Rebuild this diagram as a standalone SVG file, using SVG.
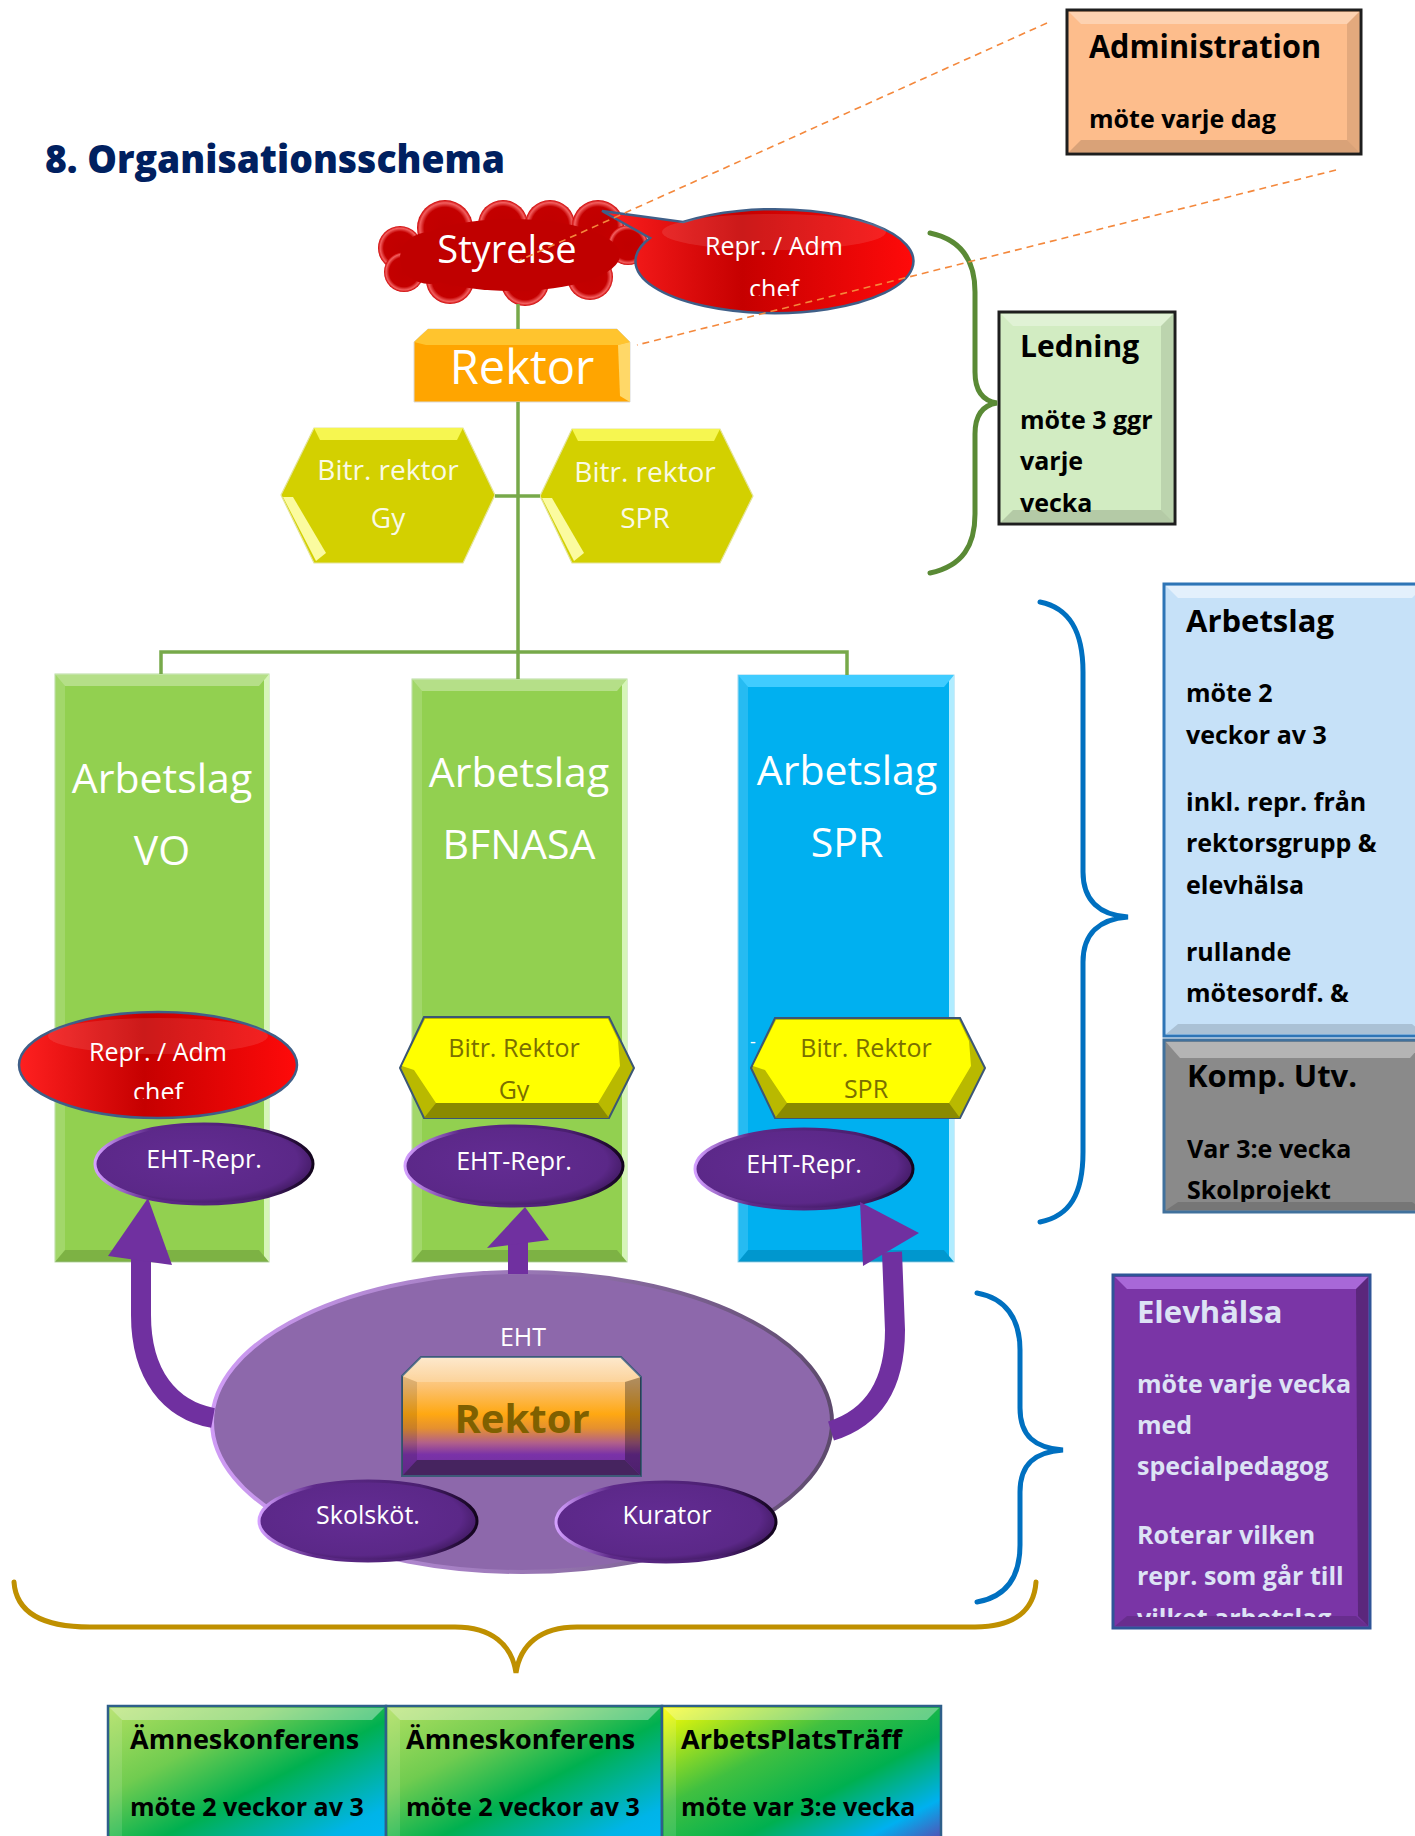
<svg xmlns="http://www.w3.org/2000/svg" width="1415" height="1836" viewBox="0 0 1415 1836">
<style>
text{font-family:"Open Sans","Noto Sans","DejaVu Sans",sans-serif}
.w{fill:#fff}.k{fill:#000}.bd{font-weight:700}.c{text-anchor:middle}
.gl{stroke:#77a94a;stroke-width:3.5;fill:none}
.dash{stroke:#f4883c;stroke-width:1.6;stroke-dasharray:7 5;fill:none}
.shaft{stroke:#7030a0;stroke-width:20;fill:none}
.head{fill:#7030a0}
.brace{fill:none;stroke-width:5;stroke-linecap:round}
.hiT{fill:#fff;opacity:.32}.hiL{fill:#fff;opacity:.15}.shB{fill:#000;opacity:.14}.shR{fill:#000;opacity:.1}
.ehtR{fill:url(#gPurp);stroke:url(#gPurpRim);stroke-width:3}
.redE{fill:url(#gRed);stroke:#3f5f88;stroke-width:2.5}
.lobe{fill:url(#gLobe)}
.yHexO{fill:#b9b900;stroke:#3b5675;stroke-width:2}
.yHexF{fill:#ffff00}.yHexB{fill:#8a8a00}
.tHex{fill:#d3d000;stroke:#e4e49a;stroke-width:1.2}
.t25{font-size:25px}.ol{fill:#7a6f00}
</style>
<defs>
<radialGradient id="gLobe" cx="0.5" cy="0.5" r="0.5"><stop offset="0" stop-color="#c00000"/><stop offset="0.74" stop-color="#c40000"/><stop offset="0.9" stop-color="#f26060"/><stop offset="1" stop-color="#cc0000"/></radialGradient>
<linearGradient id="gRed" x1="0" y1="0" x2="1" y2="0"><stop offset="0" stop-color="#ff2020"/><stop offset="0.45" stop-color="#c60000"/><stop offset="1" stop-color="#ff0a0a"/></linearGradient>
<radialGradient id="gPurp" cx="0.45" cy="0.45" r="0.6"><stop offset="0" stop-color="#632c93"/><stop offset="0.8" stop-color="#5b2888"/><stop offset="1" stop-color="#3a1658"/></radialGradient>
<linearGradient id="gPurpRim" x1="0" y1="0" x2="1" y2="0"><stop offset="0" stop-color="#d4a0ff"/><stop offset="0.25" stop-color="#5e2a8a"/><stop offset="0.75" stop-color="#4a1f70"/><stop offset="1" stop-color="#12041c"/></linearGradient>
<linearGradient id="gEhtRim" x1="0" y1="0" x2="1" y2="0"><stop offset="0" stop-color="#cf9cf5"/><stop offset="0.5" stop-color="#9a78b6"/><stop offset="1" stop-color="#5d4a6c"/></linearGradient>
<linearGradient id="gInR" x1="0" y1="0" x2="0" y2="1"><stop offset="0" stop-color="#fde3c0"/><stop offset="0.25" stop-color="#fcc272"/><stop offset="0.48" stop-color="#ffa812"/><stop offset="0.6" stop-color="#e59030"/><stop offset="0.72" stop-color="#b2608a"/><stop offset="0.82" stop-color="#7a32a8"/><stop offset="1" stop-color="#6e2e9c"/></linearGradient>
<linearGradient id="gBot1" x1="0" y1="0" x2="1" y2="1"><stop offset="0" stop-color="#b0e060"/><stop offset="0.3" stop-color="#70cc50"/><stop offset="0.55" stop-color="#00b050"/><stop offset="0.85" stop-color="#00b4e8"/><stop offset="1" stop-color="#00b8f8"/></linearGradient>
<linearGradient id="gBot3" x1="0" y1="0" x2="1" y2="1"><stop offset="0" stop-color="#ffff00"/><stop offset="0.35" stop-color="#40c040"/><stop offset="0.6" stop-color="#00b050"/><stop offset="0.82" stop-color="#00b0f0"/><stop offset="1" stop-color="#7030a0"/></linearGradient>
<clipPath id="cpChef1"><rect x="620" y="200" width="320" height="96"/></clipPath>
<clipPath id="cpChef2"><rect x="0" y="1000" width="330" height="99"/></clipPath>
<clipPath id="cpHex"><rect x="380" y="1000" width="640" height="101"/></clipPath>
<clipPath id="cpElev"><rect x="1113" y="1275" width="257" height="342"/></clipPath>
<clipPath id="cpKomp"><rect x="1164" y="1040" width="260" height="162"/></clipPath>
</defs>
<rect x="0" y="0" width="1415" height="1836" fill="#fff"/>

<g id="title"><text x="45" y="173" font-weight="800" font-size="39" fill="#002060" textLength="460" lengthAdjust="spacingAndGlyphs">8. Organisationsschema</text></g>

<g id="administration">
<rect x="1067" y="10" width="294" height="144" fill="#fdbd8c" stroke="#1e1e1e" stroke-width="3"/>
<polygon points="1069,12 1359,12 1347,24 1081,24" class="hiT"/>
<polygon points="1069,152 1359,152 1347,140 1081,140" class="shB"/>
<polygon points="1359,12 1359,152 1347,140 1347,24" class="shR"/>
<text x="1089" y="58" class="bd k" font-size="32" textLength="232" lengthAdjust="spacingAndGlyphs">Administration</text>
<text x="1089" y="128" class="bd k t25">möte varje dag</text>
</g>

<g id="ledning">
<rect x="999" y="312" width="176" height="212" fill="#d2ecc2" stroke="#1e1e1e" stroke-width="3"/>
<polygon points="1001,314 1173,314 1161,326 1013,326" class="hiT"/>
<polygon points="1001,522 1173,522 1161,510 1013,510" class="shB"/>
<polygon points="1173,314 1173,522 1161,510 1161,326" class="shR"/>
<text x="1020" y="357" class="bd k" font-size="30">Ledning</text>
<text x="1020" y="429" class="bd k t25">möte 3 ggr</text>
<text x="1020" y="470" class="bd k t25">varje</text>
<text x="1020" y="512" class="bd k t25">vecka</text>
</g>

<g id="brace-ledning"><path class="brace" stroke="#5a8a35" d="M930,233 C963,240 975,262 975,292 L975,372 C975,392 984,401 997,403 C984,405 975,414 975,434 L975,514 C975,545 963,566 930,573"/></g>

<g id="styrelse">
<circle cx="445" cy="228" r="28" class="lobe"/>
<circle cx="503" cy="225" r="25" class="lobe"/>
<circle cx="550" cy="225" r="25" class="lobe"/>
<circle cx="598" cy="226" r="26" class="lobe"/>
<circle cx="400" cy="248" r="22" class="lobe"/>
<circle cx="404" cy="272" r="20" class="lobe"/>
<circle cx="450" cy="280" r="24" class="lobe"/>
<circle cx="525" cy="282" r="24" class="lobe"/>
<circle cx="590" cy="277" r="23" class="lobe"/>
<circle cx="628" cy="245" r="20" class="lobe"/>
<ellipse cx="512" cy="255" rx="108" ry="36" fill="#c00000"/>
<ellipse cx="430" cy="258" rx="30" ry="26" fill="#c00000"/>
<text x="507" y="263" class="w c" font-size="38">Styrelse</text>
</g>

<g id="repr-adm-top">
<path class="redE" d="M650,238 L602,211 L683,222 A139 52 0 1 1 650,238 Z"/>
<ellipse cx="774" cy="232" rx="112" ry="18" fill="#fff" opacity="0.1"/>
<text x="774" y="255" class="w c t25">Repr. / Adm</text>
<text x="774" y="298" class="w c t25" clip-path="url(#cpChef1)">chef</text>
</g>

<g id="rektor">
<polygon points="414,342 428,329 617,329 630,342 630,402 414,402" fill="#ffa500" stroke="#d9d9d9" stroke-width="1"/>
<polygon points="414,342 428,329 617,329 630,342 618,345 426,345" fill="#ffc42e"/>
<polygon points="630,342 630,402 620,396 618,345" fill="#ffd868"/>
<text x="522" y="384" class="w c" font-size="47">Rektor</text>
</g>

<g id="bitr-rektor-gy">
<polygon class="tHex" points="281,495 314,428 463,428 495,495 463,563 314,563"/>
<polygon points="314,428 463,428 457,440 320,440" fill="#f6f650"/>
<polygon points="283,497 293,497 326,553 316,561" fill="#ffffb0" opacity="0.9"/>
<text x="388" y="480" class="c" fill="#fafae6" style="font-size:28px">Bitr. rektor</text>
<text x="388" y="528" class="c" fill="#fafae6" style="font-size:28px">Gy</text>
</g>

<g id="bitr-rektor-spr">
<polygon class="tHex" points="540,496 572,429 720,429 753,496 720,563 572,563"/>
<polygon points="572,429 720,429 714,441 578,441" fill="#f6f650"/>
<polygon points="542,498 552,498 584,553 574,561" fill="#ffffb0" opacity="0.9"/>
<text x="645" y="482" class="c" fill="#fafae6" style="font-size:28px">Bitr. rektor</text>
<text x="645" y="528" class="c" fill="#fafae6" style="font-size:28px">SPR</text>
</g>

<g id="arbetslag-vo">
<rect x="55" y="674" width="214" height="588" fill="#92d050" stroke="#b8dca0" stroke-width="1"/>
<polygon points="55,674 269,674 259,686 65,686" class="hiT"/>
<polygon points="55,674 65,686 65,1250 55,1262" class="hiL"/>
<polygon points="269,674 269,1262 264,1256 264,680" fill="#d6f5b8"/>
<polygon points="55,1262 269,1262 259,1250 65,1250" class="shB"/>
<text x="162" y="793" class="w c" font-size="41">Arbetslag</text>
<text x="162" y="865" class="w c" font-size="41">VO</text>
</g>

<g id="arbetslag-bfnasa">
<rect x="412" y="679" width="215" height="583" fill="#92d050" stroke="#b8dca0" stroke-width="1"/>
<polygon points="412,679 627,679 617,691 422,691" class="hiT"/>
<polygon points="412,679 422,691 422,1250 412,1262" class="hiL"/>
<polygon points="627,679 627,1262 622,1256 622,685" fill="#d6f5b8"/>
<polygon points="412,1262 627,1262 617,1250 422,1250" class="shB"/>
<text x="519" y="787" class="w c" font-size="41">Arbetslag</text>
<text x="519" y="859" class="w c" font-size="41">BFNASA</text>
</g>

<g id="arbetslag-spr">
<rect x="738" y="675" width="216" height="587" fill="#00b0f0" stroke="#9ad8f0" stroke-width="1"/>
<polygon points="738,675 954,675 944,687 748,687" fill="#40ccff"/>
<polygon points="738,675 748,687 748,1250 738,1262" class="hiL"/>
<polygon points="954,675 954,1262 949,1256 949,681" fill="#b0ecff"/>
<polygon points="738,1262 954,1262 944,1250 748,1250" class="shB"/>
<text x="847" y="785" class="w c" font-size="41">Arbetslag</text>
<text x="847" y="857" class="w c" font-size="41">SPR</text>
</g>

<g id="repr-adm-vo">
<ellipse cx="158" cy="1065" rx="139" ry="53" class="redE"/>
<ellipse cx="158" cy="1036" rx="110" ry="18" fill="#fff" opacity="0.1"/>
<text x="158" y="1061" class="w c t25">Repr. / Adm</text>
<text x="158" y="1101" class="w c t25" clip-path="url(#cpChef2)">chef</text>
</g>

<g id="bitr-rektor-gy-bfnasa">
<polygon class="yHexO" points="400,1068 424,1017 609,1017 634,1068 609,1118 424,1118"/>
<polygon class="yHexF" points="402,1066 425,1019 608,1019 618,1040 620,1066 598,1103 436,1103 414,1070"/>
<polygon class="yHexB" points="424,1118 609,1118 598,1103 436,1103"/>
<text x="514" y="1057" class="c t25 ol">Bitr. Rektor</text>
<text x="514" y="1099" class="c t25 ol" clip-path="url(#cpHex)">Gy</text>
</g>

<g id="bitr-rektor-spr-lower">
<polygon class="yHexO" points="751,1068 775,1018 960,1018 985,1068 960,1118 775,1118"/>
<polygon class="yHexF" points="753,1066 776,1020 959,1020 969,1041 971,1066 949,1103 787,1103 765,1070"/>
<polygon class="yHexB" points="775,1118 960,1118 949,1103 787,1103"/>
<text x="753" y="1048" class="w c" font-size="18">-</text>
<text x="866" y="1057" class="c t25 ol">Bitr. Rektor</text>
<text x="866" y="1098" class="c t25 ol" clip-path="url(#cpHex)">SPR</text>
</g>

<g id="eht-repr-vo">
<ellipse cx="204" cy="1164" rx="109" ry="40" class="ehtR"/>
<text x="204" y="1168" class="w c t25">EHT-Repr.</text>
</g>
<g id="eht-repr-bfnasa">
<ellipse cx="514" cy="1166" rx="109" ry="40" class="ehtR"/>
<text x="514" y="1170" class="w c t25">EHT-Repr.</text>
</g>
<g id="eht-repr-spr">
<ellipse cx="804" cy="1169" rx="109" ry="40" class="ehtR"/>
<text x="804" y="1173" class="w c t25">EHT-Repr.</text>
</g>

<g id="eht">
<ellipse cx="522" cy="1422" rx="310" ry="150" fill="#8d68ab" stroke="url(#gEhtRim)" stroke-width="4"/>
<text x="523" y="1346" class="w c t25">EHT</text>
</g>

<g id="rektor-eht">
<polygon points="402,1376 421,1357 621,1357 641,1377 641,1476 402,1476" fill="url(#gInR)" stroke="#3d5a78" stroke-width="2"/>
<polygon points="402,1376 421,1357 621,1357 641,1377 625,1382 417,1382" fill="#fff" opacity="0.22"/>
<polygon points="402,1376 417,1382 417,1460 402,1476" fill="#000" opacity="0.12"/>
<polygon points="641,1377 625,1382 625,1460 641,1476" fill="#000" opacity="0.3"/>
<polygon points="403,1475 640,1475 625,1460 417,1460" fill="#46245f"/>
<text x="522" y="1433" class="bd c" font-size="40" fill="#7f6000">Rektor</text>
</g>

<g id="skolskot">
<ellipse cx="368" cy="1521" rx="109" ry="40" class="ehtR"/>
<text x="368" y="1524" class="w c t25">Skolsköt.</text>
</g>
<g id="kurator">
<ellipse cx="666" cy="1522" rx="110" ry="40" class="ehtR"/>
<text x="667" y="1524" class="w c t25">Kurator</text>
</g>

<g id="brace-arbetslag"><path class="brace" stroke="#0070c0" d="M1040,602 C1070,608 1083,632 1083,672 L1083,872 C1083,901 1100,915 1128,917 C1100,919 1083,933 1083,962 L1083,1152 C1083,1194 1070,1216 1040,1222"/></g>

<g id="arbetslag-info">
<rect x="1164" y="584" width="262" height="452" fill="#c6e1f8" stroke="#2e75b6" stroke-width="3"/>
<polygon points="1166,586 1424,586 1412,598 1178,598" fill="#fff" opacity="0.5"/>
<polygon points="1166,1034 1424,1034 1412,1024 1178,1024" class="shB"/>
<text x="1186" y="632" class="bd k" font-size="31">Arbetslag</text>
<text x="1186" y="702" class="bd k t25">möte 2</text>
<text x="1186" y="744" class="bd k t25">veckor av 3</text>
<text x="1186" y="811" class="bd k t25">inkl. repr. från</text>
<text x="1186" y="852" class="bd k t25">rektorsgrupp &amp;</text>
<text x="1186" y="894" class="bd k t25">elevhälsa</text>
<text x="1186" y="961" class="bd k t25">rullande</text>
<text x="1186" y="1002" class="bd k t25">mötesordf. &amp;</text>
</g>

<g id="komp-utv">
<rect x="1164" y="1040" width="262" height="172" fill="#8a8a8a" stroke="#41719c" stroke-width="3"/>
<polygon points="1166,1042 1424,1042 1410,1058 1180,1058" fill="#b4b4b4"/>
<polygon points="1166,1210 1424,1210 1412,1202 1178,1202" class="shB"/>
<text x="1187" y="1087" class="bd k" font-size="31">Komp. Utv.</text>
<text x="1187" y="1158" class="bd k t25">Var 3:e vecka</text>
<text x="1187" y="1199" class="bd k t25" clip-path="url(#cpKomp)">Skolprojekt</text>
</g>

<g id="brace-elevhalsa"><path class="brace" stroke="#0070c0" d="M977,1293 C1005,1298 1020,1318 1020,1350 L1020,1408 C1020,1436 1035,1448 1063,1450 C1035,1452 1020,1464 1020,1492 L1020,1545 C1020,1578 1005,1597 977,1602"/></g>

<g id="elevhalsa">
<rect x="1113" y="1275" width="257" height="353" fill="#7a35a6" stroke="#2f5597" stroke-width="3"/>
<polygon points="1115,1277 1368,1277 1356,1289 1127,1289" fill="#a868d8"/>
<polygon points="1368,1277 1368,1626 1358,1616 1356,1289" fill="#000" opacity="0.25"/>
<polygon points="1115,1626 1368,1626 1356,1616 1127,1616" class="shB"/>
<g fill="#dde3f5" class="bd" clip-path="url(#cpElev)">
<text x="1137" y="1323" font-size="31">Elevhälsa</text>
<text x="1137" y="1393" class="t25">möte varje vecka</text>
<text x="1137" y="1434" class="t25">med</text>
<text x="1137" y="1475" class="t25">specialpedagog</text>
<text x="1137" y="1544" class="t25">Roterar vilken</text>
<text x="1137" y="1585" class="t25">repr. som går till</text>
<text x="1137" y="1627" class="t25">vilket arbetslag</text>
</g>
</g>

<g id="brace-bottom"><path class="brace" stroke="#bf9000" d="M14,1582 C16,1612 42,1627 90,1627 L455,1627 C492,1627 512,1645 516,1673 C520,1645 540,1627 577,1627 L975,1627 C1015,1627 1034,1610 1036,1582"/></g>

<g id="amneskonferens-1">
<rect x="108" y="1706" width="278" height="145" fill="url(#gBot1)" stroke="#2e5f8a" stroke-width="2.5"/>
<polygon points="110,1708 384,1708 372,1720 122,1720" fill="#fff" opacity="0.35"/>
<polygon points="110,1708 122,1720 122,1840 110,1840" fill="#fff" opacity="0.12"/>
<text x="130" y="1749" class="bd k" font-size="27">Ämneskonferens</text>
<text x="130" y="1816" class="bd k t25">möte 2 veckor av 3</text>
</g>
<g id="amneskonferens-2">
<rect x="386" y="1706" width="276" height="145" fill="url(#gBot1)" stroke="#2e5f8a" stroke-width="2.5"/>
<polygon points="388,1708 660,1708 648,1720 400,1720" fill="#fff" opacity="0.35"/>
<polygon points="388,1708 400,1720 400,1840 388,1840" fill="#fff" opacity="0.12"/>
<text x="406" y="1749" class="bd k" font-size="27">Ämneskonferens</text>
<text x="406" y="1816" class="bd k t25">möte 2 veckor av 3</text>
</g>
<g id="arbetsplatstraff">
<rect x="662" y="1706" width="279" height="145" fill="url(#gBot3)" stroke="#2e5f8a" stroke-width="2.5"/>
<polygon points="664,1708 939,1708 927,1720 676,1720" fill="#fff" opacity="0.35"/>
<polygon points="664,1708 676,1720 676,1840 664,1840" fill="#fff" opacity="0.12"/>
<text x="681" y="1749" class="bd k" font-size="27">ArbetsPlatsTräff</text>
<text x="681" y="1816" class="bd k t25">möte var 3:e vecka</text>
</g>

<g id="connectors">
<line class="gl" x1="518" y1="304" x2="518" y2="329"/>
<line class="gl" x1="518" y1="402" x2="518" y2="679"/>
<line class="gl" x1="495" y1="496" x2="540" y2="496"/>
<polyline class="gl" points="161,674 161,652 847,652 847,675"/>
<path class="shaft" d="M213,1418 C170,1410 141,1375 141,1315 L141,1256"/>
<polygon class="head" points="148,1198 108,1256 172,1265"/>
<path class="shaft" d="M518,1274 L518,1242"/>
<polygon class="head" points="525,1207 487,1248 549,1240"/>
<path class="shaft" d="M831,1431 C873,1418 895,1385 895,1330 L892,1252"/>
<polygon class="head" points="860,1202 919,1233 863,1266"/>
<line class="dash" x1="1047" y1="23" x2="518" y2="261"/>
<line class="dash" x1="1336" y1="170" x2="637" y2="345"/>
</g>
</svg>
